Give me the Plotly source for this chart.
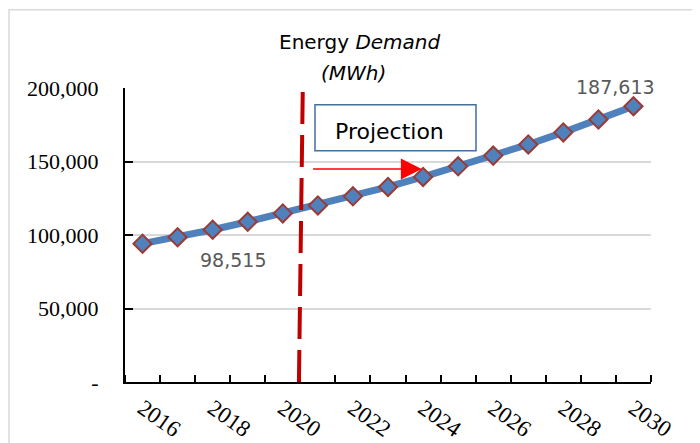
import plotly.graph_objects as go

# ---- data ----
years = [2016, 2017, 2018, 2019, 2020, 2021, 2022, 2023, 2024, 2025, 2026, 2027, 2028, 2029, 2030]
demand = [94100, 98515, 103600, 109000, 114700, 120100, 126300, 132700, 139500, 146700,
          154000, 161600, 169800, 178600, 187613]
x_tickvals = [2016, 2018, 2020, 2022, 2024, 2026, 2028, 2030]
y_tickvals = [0, 50000, 100000, 150000, 200000]
y_ticktext = ["-", "50,000", "100,000", "150,000", "200,000"]
projection_start = 2020.5

LINE_BLUE = "#4F81BD"
MARKER_EDGE = "#9B3B36"
LABEL_GRAY = "#595959"

fig = go.Figure()
fig.add_trace(go.Scatter(
    x=years, y=demand, mode="lines+markers",
    line=dict(color=LINE_BLUE, width=7),
    marker=dict(symbol="diamond", size=14, color=LINE_BLUE,
                line=dict(color=MARKER_EDGE, width=2)),
    hoverinfo="x+y", showlegend=False,
))

# data labels
fig.add_annotation(x=years[1], y=demand[1], text=f"{demand[1]:,}", showarrow=False,
                   xanchor="center", yanchor="middle",
                   xshift=55, yshift=-23, font=dict(family="DejaVu Sans", size=19, color=LABEL_GRAY))
fig.add_annotation(x=years[-1], y=demand[-1], text=f"{demand[-1]:,}", showarrow=False,
                   xanchor="center", yanchor="middle",
                   xshift=-18, yshift=19, font=dict(family="DejaVu Sans", size=19, color=LABEL_GRAY))

# title
fig.add_annotation(xref="paper", yref="paper", x=0.4468, y=1.158, text="Energy <i>Demand</i>",
                   xanchor="center", yanchor="middle",
                   showarrow=False, font=dict(family="DejaVu Sans", size=20, color="black"))
fig.add_annotation(xref="paper", yref="paper", x=0.435, y=1.05, text="<i>(MWh)</i>",
                   xanchor="center", yanchor="middle",
                   showarrow=False, font=dict(family="DejaVu Sans", size=20, color="black"))

# projection divider
fig.add_shape(type="line", xref="x", yref="y", x0=projection_start - 0.04, y0=0,
              x1=projection_start + 0.07, y1=200000,
              line=dict(color="#C00000", width=4, dash="32px,11px"))

# projection box
fig.add_shape(type="rect", xref="paper", yref="paper", x0=0.3612, y0=0.7867, x1=0.6673, y1=0.9432,
              line=dict(color="#41719C", width=1.5), fillcolor="white")
fig.add_annotation(xref="paper", yref="paper", x=0.5038, y=0.8524, text="Projection",
                   xanchor="center", yanchor="middle",
                   showarrow=False, font=dict(family="DejaVu Sans", size=22, color="black"))

# arrow
fig.add_annotation(x=2023.96, y=144900, ax=2020.82, ay=144900, axref="x", ayref="y",
                   text="", showarrow=True, arrowhead=2, arrowsize=2.6, arrowwidth=1.6,
                   arrowcolor="#FF0000", standoff=0)

# outer chart border
fig.add_shape(type="rect", xref="paper", yref="paper", x0=-0.2205, y0=-0.3, x1=1.0817, y1=1.2663,
              line=dict(color="#D9D9D9", width=1.5), fillcolor="rgba(0,0,0,0)", layer="below")

# the page places the figure 8px in from the top-left, margins compensate for that
fig.update_layout(
    width=700, height=443,
    margin=dict(l=117, r=57, t=80, b=69),
    paper_bgcolor="white", plot_bgcolor="white",
)
fig.update_xaxes(
    automargin=False,
    range=[2015.5, 2030.5], tickmode="array", tickvals=x_tickvals,
    ticks="", tickangle=35, ticklabelstandoff=2,
    tickfont=dict(family="Liberation Serif", size=23, color="black"),
    showline=True, linecolor="black", linewidth=2, showgrid=False, zeroline=False,
    minor=dict(tickmode="linear", tick0=2015.5, dtick=1, ticks="inside", ticklen=7,
               tickwidth=2, tickcolor="black", showgrid=False),
)
fig.update_yaxes(
    automargin=False,
    range=[0, 200000], tickmode="array", tickvals=y_tickvals, ticktext=y_ticktext,
    ticks="inside", ticklen=8, tickwidth=2, tickcolor="black", ticklabelstandoff=20,
    tickfont=dict(family="Liberation Serif", size=22, color="black"),
    showline=True, linecolor="black", linewidth=2,
    showgrid=True, gridcolor="#D9D9D9", gridwidth=1.5, zeroline=False,
)

fig.write_html("out.html")
